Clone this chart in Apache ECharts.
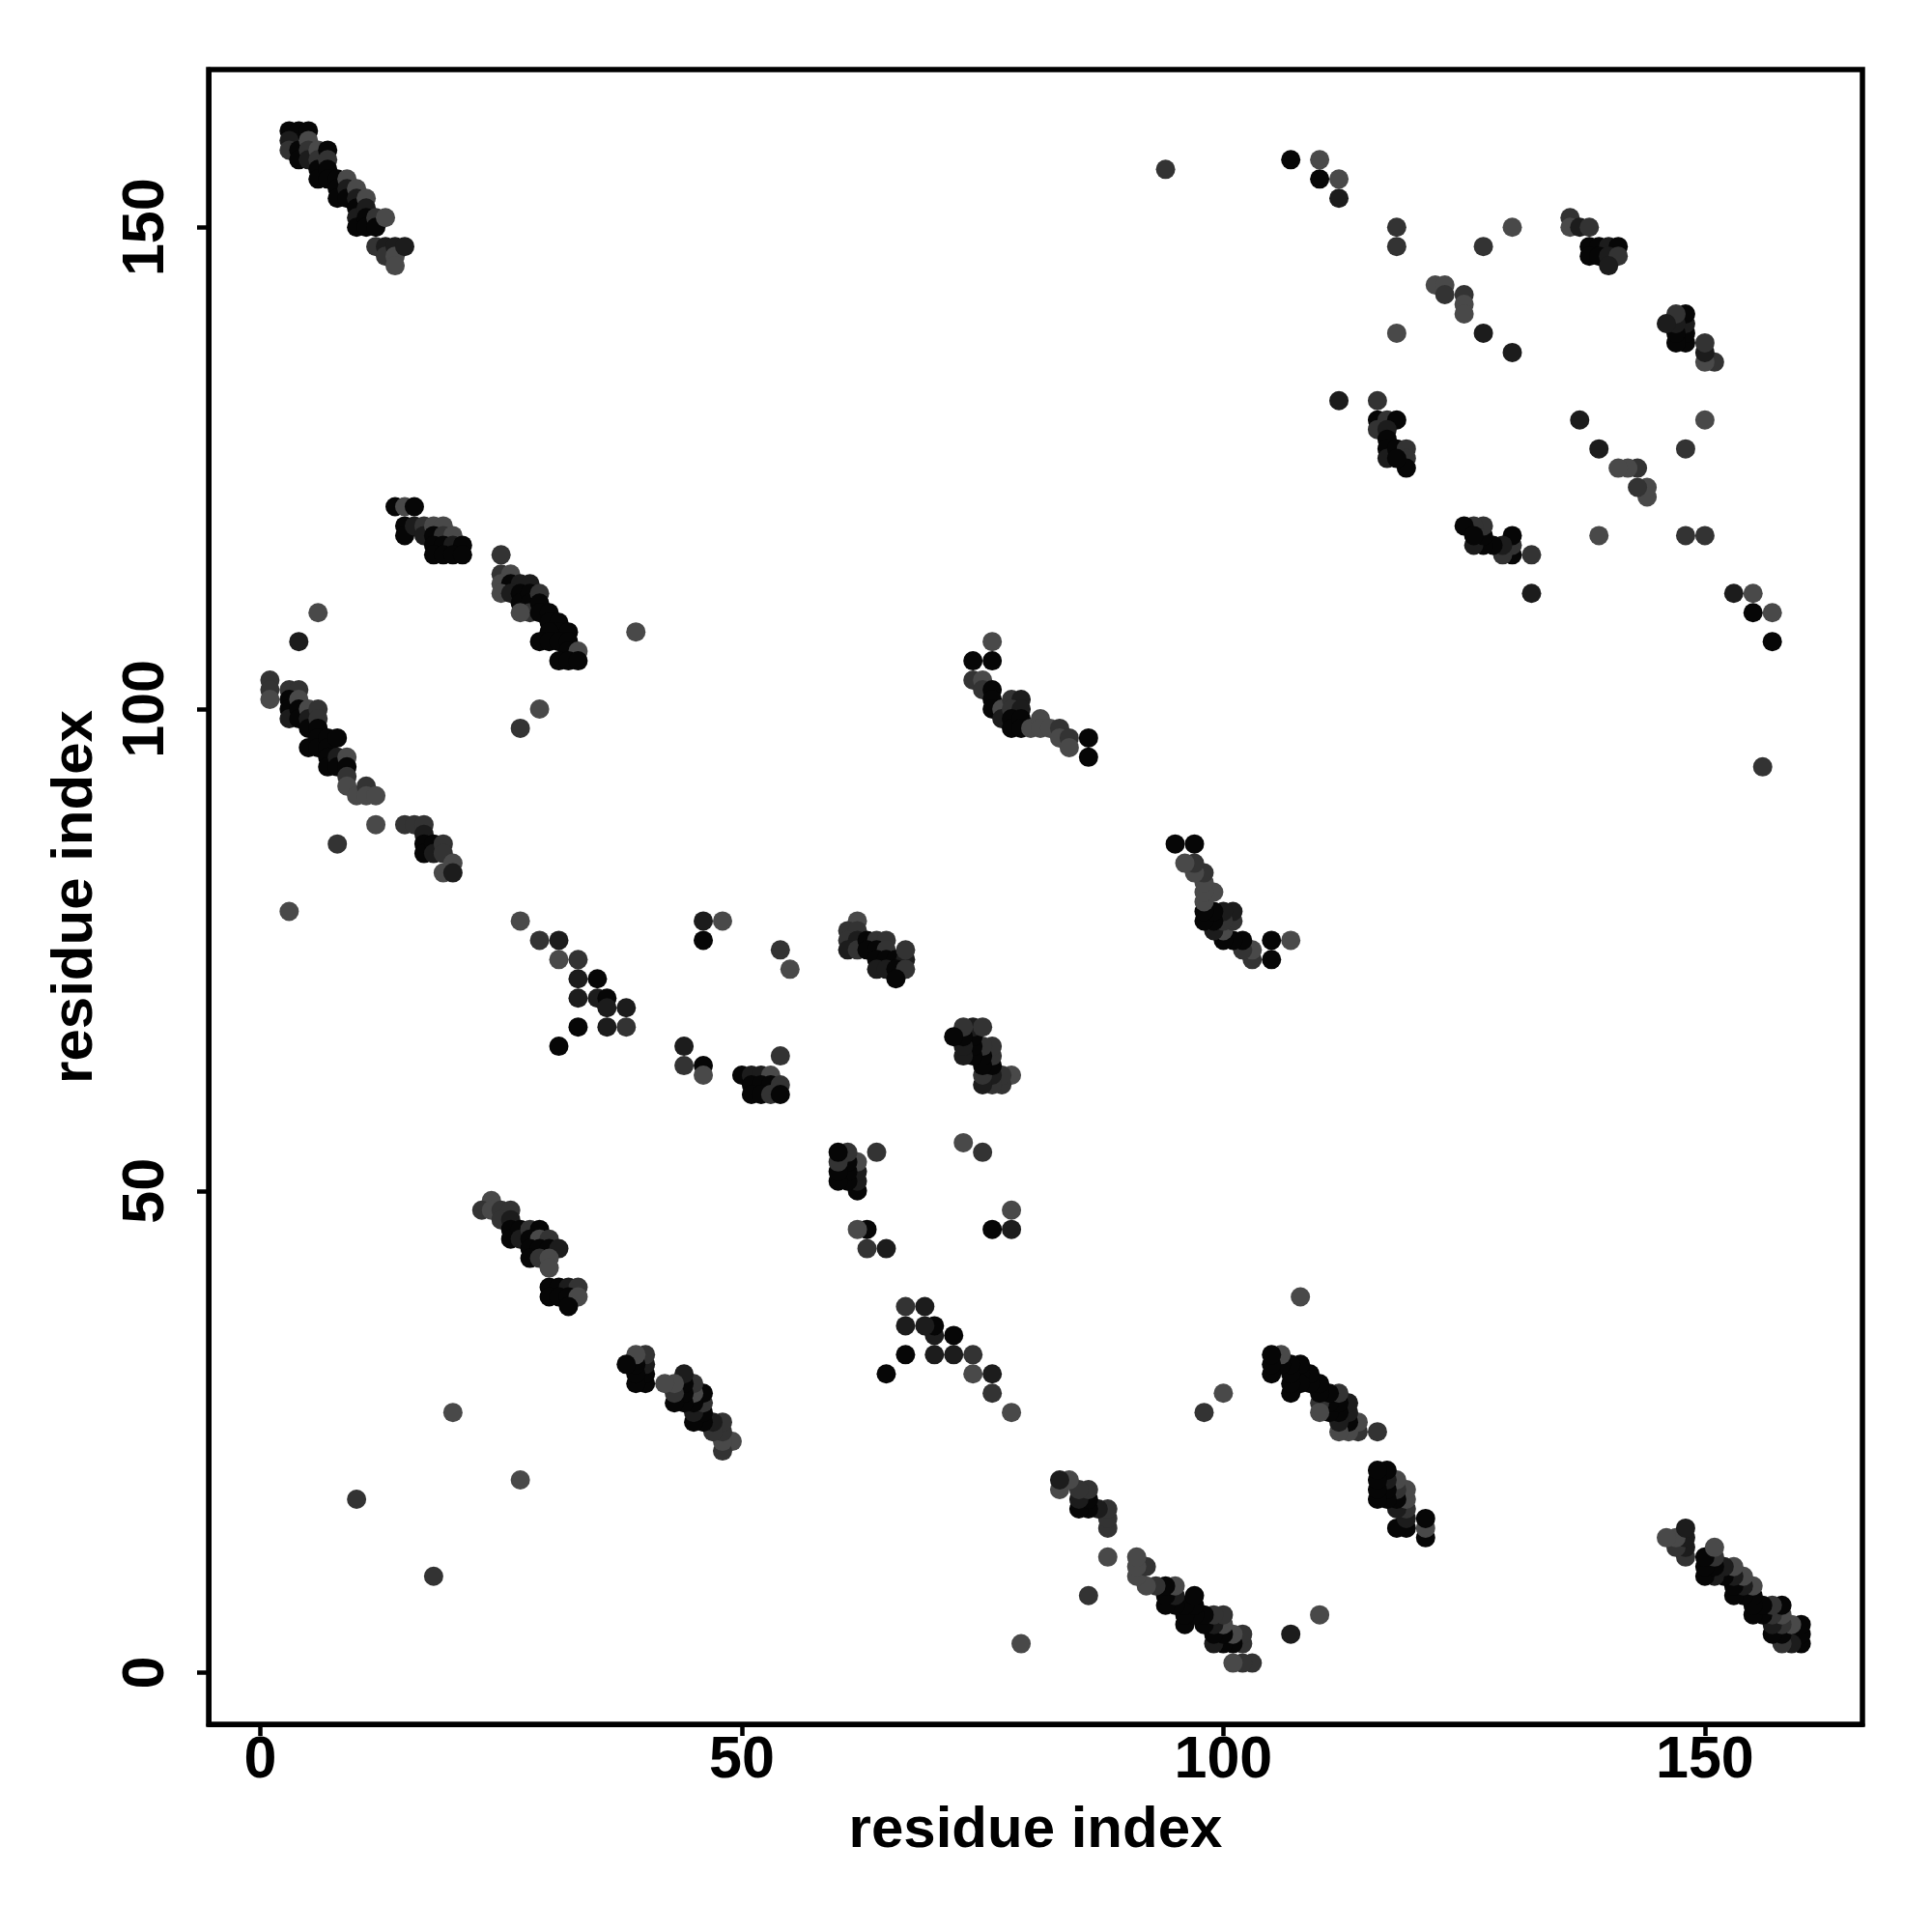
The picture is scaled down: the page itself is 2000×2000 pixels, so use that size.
<!DOCTYPE html>
<html>
<head>
<meta charset="utf-8">
<script src="https://cdn.jsdelivr.net/npm/echarts@6/dist/echarts.min.js"></script>
<style>
html,body{margin:0;padding:0;background:#fff;}
#chart{width:2000px;height:2000px;}
</style>
</head>
<body>
<div id="chart"></div>
<script>
// Contact pairs [i, j, shade] with i < j; the contact map is drawn in both orientations.
// shade: 0 = black, 1 = very dark grey, 2 = dark grey, 3 = mid grey
var clusterA = [[3,160,0],[4,160,0],[5,160,0],[3,159,1],[3,158,2],[4,158,0],[4,157,0],[5,159,3],[5,158,2],[5,157,1],[6,158,3],[6,157,2],[6,156,0],[6,155,0],[7,158,0],[7,157,2],[7,156,0],[7,155,0],[8,155,0],[8,154,0],[8,153,0],[9,155,3],[9,154,1],[9,153,0],[10,154,3],[10,153,1],[10,152,0],[10,151,1],[10,150,0],[11,153,3],[11,152,1],[11,151,0],[11,150,0],[12,151,2],[12,150,0],[12,148,2],[13,151,3],[13,148,1],[13,147,2],[14,148,1],[14,147,3],[14,146,3],[15,148,1]];
var clusterB = [[1,103,2],[1,102,2],[1,101,3],[3,102,2],[4,102,2],[3,101,0],[3,100,0],[3,99,1],[4,101,3],[4,100,0],[4,99,0],[5,100,3],[5,99,1],[5,98,0],[5,96,0],[6,100,2],[6,99,2],[6,98,0],[6,97,0],[6,96,0],[7,97,0],[7,96,0],[7,95,0],[7,94,0],[8,97,0],[8,95,1],[8,94,0],[9,95,3],[9,94,0],[9,93,2],[9,92,3],[10,91,3],[11,92,2],[11,91,3],[12,91,3],[12,88,3],[8,86,2],[15,88,2],[16,88,2],[17,88,2],[17,87,1],[17,86,0],[17,85,0],[18,86,0],[18,85,1],[19,86,2],[19,85,2],[19,83,3],[20,84,3],[20,83,1]];
var clusterC = [[14,121,0],[15,121,3],[16,121,0],[15,119,0],[15,118,0],[16,119,1],[17,119,2],[17,118,1],[18,119,3],[19,119,3],[18,118,0],[19,118,2],[20,118,3],[18,117,0],[19,117,0],[20,117,1],[21,117,0],[18,116,0],[19,116,0],[20,116,0],[21,116,0]];
var clusterD = [[25,116,2],[25,114,2],[26,114,3],[25,113,3],[26,113,0],[27,113,1],[28,113,1],[25,112,3],[26,112,1],[27,112,0],[27,111,0],[28,112,0],[28,111,0],[28,110,2],[27,110,3],[29,112,2],[29,111,0],[29,110,0],[30,110,0],[30,109,0],[31,109,0],[31,108,0],[30,108,0],[32,108,0],[29,107,0],[30,107,0],[31,107,0],[32,107,0],[32,106,0],[33,106,3],[31,105,0],[32,105,0],[33,105,0]];
var clusterE = [[24,49,3],[23,48,2],[24,48,3],[25,48,2],[26,48,2],[25,47,2],[26,47,1],[26,46,0],[26,45,0],[27,46,0],[27,45,1],[28,46,2],[29,46,0],[28,45,0],[29,45,3],[30,45,2],[28,44,0],[29,44,0],[28,43,0],[30,44,0],[31,44,1],[29,43,2],[30,43,3],[30,42,3],[30,40,0],[31,40,0],[32,40,1],[33,40,2],[30,39,0],[31,39,0],[32,39,0],[33,39,3],[32,38,0]];
var clusterF = [[27,78,3],[29,76,2],[31,76,1],[31,74,3],[33,74,2],[33,72,1],[35,72,0],[33,70,1],[35,70,1],[36,70,0],[36,69,1],[38,69,1],[33,67,0],[36,67,1],[38,67,2],[31,65,0]];
var clusterG = [[50,62,0],[51,62,1],[52,62,1],[53,62,3],[51,61,0],[52,61,0],[53,61,0],[54,61,2],[51,60,0],[52,60,0],[53,60,2],[54,60,0]];
var clusterH = [[62,78,3],[61,77,2],[62,77,2],[61,76,2],[62,76,1],[61,75,1],[62,75,2],[63,76,0],[64,76,2],[65,76,2],[63,75,0],[64,75,0],[65,75,2],[64,74,0],[65,74,0],[66,74,0],[67,74,1],[64,73,1],[65,73,1],[66,73,0],[67,73,2],[66,72,0],[67,75,2]];
var clusterJ = [[76,107,3],[74,105,0],[76,105,0],[74,103,2],[75,103,3],[75,102,2],[76,102,0],[76,101,0],[76,100,0],[77,100,3],[77,99,1],[78,101,2],[79,101,1],[78,100,2],[79,100,1],[78,99,0],[78,98,0],[79,99,0],[79,98,0],[80,98,3],[81,99,3],[81,98,3],[82,98,3],[83,98,2],[83,97,3],[84,97,2],[84,96,3],[86,97,0],[86,95,0]];
var clusterU = [[94,156,2],[107,157,0],[110,157,3],[110,155,0],[112,155,3],[112,153,1],[112,132,1],[116,132,2],[116,130,0],[117,130,2],[118,130,0],[116,129,2],[117,129,1],[117,128,0],[117,127,0],[117,126,1],[118,127,0],[119,127,2],[119,126,2],[119,125,0],[118,126,0],[118,150,2],[118,148,2],[127,148,2],[130,150,3],[118,139,3],[127,139,1],[130,137,1],[136,151,2],[136,150,3],[137,150,1],[138,150,2],[138,148,0],[139,148,0],[140,148,1],[141,148,0],[138,147,0],[139,147,0],[140,147,1],[141,147,2],[140,146,1],[122,144,3],[123,144,3],[123,143,2],[125,143,2],[125,142,3],[125,141,3]];
var isolated = [[3,79,3],[27,98,2],[29,100,3],[4,107,1],[39,108,3],[6,110,3],[10,18,2],[20,27,3],[46,78,1],[48,78,3],[46,76,0],[44,65,1],[44,63,2],[46,63,0],[46,62,3],[54,64,2],[54,75,2],[55,73,3]];

var tickValues = [0, 50, 100, 150];
var axisTitle = 'residue index';
var shades = ['#060606', '#1c1c1c', '#333333', '#494949'];

var contacts = [].concat(clusterA, clusterB, clusterC, clusterD, clusterE, clusterF, clusterG, clusterH, clusterJ, clusterU, isolated);
var points = [];
contacts.forEach(function (c) {
  points.push([c[0], c[1], c[2]]);
  points.push([c[1], c[0], c[2]]);
});

var font = "'Liberation Sans', Arial, Helvetica, sans-serif";
var chart = echarts.init(document.getElementById('chart'), null, {renderer: 'canvas'});
var axisCommon = {
  type: 'value',
  min: -5.36,
  max: 166.36,
  splitLine: {show: false},
  axisLine: {show: true, onZero: false, lineStyle: {color: '#000', width: 5}},
  axisTick: {show: true, length: 12, customValues: tickValues, lineStyle: {color: '#000', width: 4.5}},
  axisLabel: {customValues: tickValues, color: '#000', fontSize: 61, fontWeight: 'bold', fontFamily: font},
  name: axisTitle,
  nameLocation: 'middle',
  nameTextStyle: {color: '#000', fontSize: 60, fontWeight: 'bold', fontFamily: font}
};
var xAxis = echarts.util.merge(echarts.util.clone(axisCommon), {
  nameGap: 80,
  axisLabel: {margin: 8}
}, true);
var yAxis = echarts.util.merge(echarts.util.clone(axisCommon), {
  nameGap: 108,
  nameRotate: 90,
  axisLabel: {margin: 33, rotate: 90}
}, true);

chart.setOption({
  backgroundColor: '#fff',
  animation: false,
  grid: {left: 216, right: 72, top: 72, bottom: 215, show: true, borderColor: '#000', borderWidth: 5.5, backgroundColor: 'transparent'},
  xAxis: xAxis,
  yAxis: yAxis,
  series: [{
    type: 'scatter',
    data: points,
    symbol: 'circle',
    symbolSize: 20,
    itemStyle: {
      opacity: 1,
      color: function (p) { return shades[p.value[2]]; }
    }
  }]
});
</script>
</body>
</html>
